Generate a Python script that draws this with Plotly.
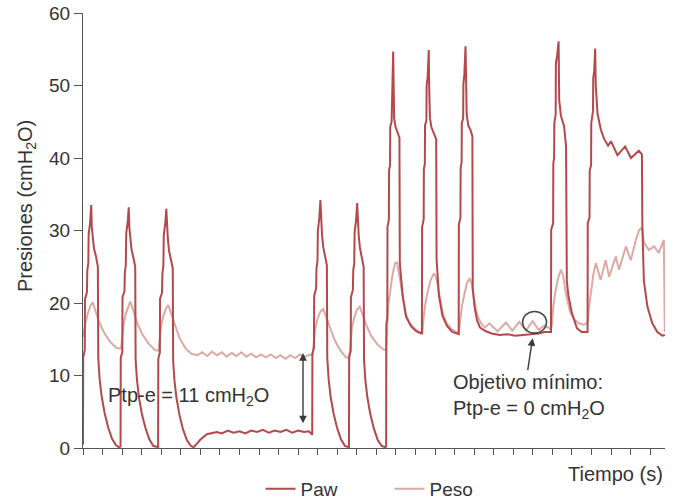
import plotly.graph_objects as go

# Airway pressure (Paw) samples: time (s), pressure (cmH2O)
paw_t = [
    # breaths 1-3
    0.00, 0.01, 0.09, 0.10, 0.20, 0.22, 0.27, 0.29, 0.36, 0.42, 0.45, 0.50, 0.56, 0.66, 0.76, 0.78, 0.85, 0.95, 1.10, 1.28, 1.48, 1.68, 1.85,
    1.92, 1.93, 2.01, 2.02, 2.12, 2.14, 2.19, 2.21, 2.28, 2.34, 2.37, 2.42, 2.48, 2.58, 2.67, 2.69, 2.76, 2.86, 3.01, 3.19, 3.39, 3.59, 3.77,
    3.84, 3.85, 3.93, 3.94, 4.04, 4.06, 4.11, 4.13, 4.20, 4.26, 4.29, 4.34, 4.40, 4.50, 4.59, 4.61, 4.68, 4.78, 4.93, 5.11, 5.31, 5.51, 5.65,
    # pause
    5.83, 5.98, 6.33, 6.84, 7.10, 7.40, 7.70, 8.00, 8.30, 8.60, 8.90, 9.20, 9.50, 9.80, 10.10, 10.40, 10.70, 11.00, 11.30, 11.55, 11.70,
    # breaths 4-5
    11.72, 11.73, 11.81, 11.82, 11.92, 11.94, 11.99, 12.01, 12.08, 12.14, 12.17, 12.22, 12.28, 12.38, 12.47, 12.49, 12.56, 12.66, 12.81, 12.99, 13.19, 13.39, 13.55,
    13.60, 13.61, 13.69, 13.70, 13.80, 13.82, 13.87, 13.89, 13.96, 14.02, 14.05, 14.10, 14.16, 14.26, 14.35, 14.37, 14.44, 14.54, 14.69, 14.87, 15.07, 15.27, 15.45,
    # breaths 6-8 (higher PEEP)
    15.50, 15.51, 15.56, 15.57, 15.64, 15.65, 15.70, 15.71, 15.78, 15.79, 15.83, 15.86, 15.88, 15.91, 15.98, 16.08, 16.18, 16.20, 16.35, 16.52, 16.77, 17.03, 17.17, 17.30,
    17.33, 17.34, 17.42, 17.43, 17.48, 17.49, 17.56, 17.57, 17.62, 17.68, 17.70, 17.74, 17.82, 17.94, 18.06, 18.08, 18.20, 18.38, 18.62, 18.88, 19.05, 19.19,
    19.21, 19.22, 19.30, 19.31, 19.36, 19.37, 19.44, 19.45, 19.50, 19.56, 19.58, 19.62, 19.70, 19.82, 19.91, 19.93, 20.02, 20.15, 20.30, 20.60,
    20.90, 21.30, 21.70, 22.10, 22.50, 22.90, 23.30, 23.60, 23.92,
    # breaths 9-10
    23.93, 23.94, 24.04, 24.05, 24.09, 24.10, 24.17, 24.18, 24.24, 24.32, 24.35, 24.44, 24.60, 24.70, 24.74, 24.82, 25.00, 25.26, 25.50, 25.78,
    25.80, 25.81, 25.90, 25.91, 25.98, 25.99, 26.08, 26.09, 26.14, 26.19, 26.22, 26.31, 26.48, 26.65, 26.85, 27.00, 27.33, 27.72, 28.02, 28.42, 28.58,
    28.60, 28.68, 28.86, 29.11, 29.37, 29.62, 29.75,
]
paw_v = [
    0.5, 12.5, 13.5, 20.5, 21.5, 24.5, 25.5, 29.5, 31.0, 33.5, 30.5, 29.0, 27.5, 26.5, 25.0, 12.5, 9.5, 7.2, 4.9, 2.9, 1.3, 0.4, 0.1,
    0.2, 12.5, 13.2, 20.8, 21.6, 24.2, 25.3, 29.6, 31.0, 33.2, 30.4, 29.2, 27.4, 26.2, 25.0, 12.2, 9.4, 7.0, 4.7, 2.8, 1.2, 0.3, 0.1,
    0.1, 12.3, 13.2, 20.6, 21.4, 24.0, 25.2, 29.4, 30.8, 33.0, 30.2, 28.8, 27.2, 26.0, 24.8, 12.0, 9.2, 6.9, 4.6, 2.6, 1.1, 0.3, 0.1,
    0.6, 1.1, 1.9, 2.2, 2.0, 2.4, 2.1, 2.3, 2.0, 2.4, 2.2, 2.5, 2.1, 2.4, 2.2, 2.5, 2.1, 2.4, 2.2, 2.3, 1.9,
    1.9, 13.0, 13.8, 21.0, 22.0, 24.8, 25.8, 30.0, 31.6, 34.2, 31.0, 29.5, 27.8, 26.6, 25.2, 12.4, 9.5, 7.1, 4.8, 2.8, 1.2, 0.3, 0.1,
    0.1, 12.6, 13.4, 20.8, 21.8, 24.5, 25.5, 29.8, 31.3, 33.8, 30.6, 29.2, 27.6, 26.4, 25.0, 12.2, 9.3, 7.0, 4.7, 2.7, 1.1, 0.3, 0.1,
    0.2, 17.0, 18.0, 30.5, 31.5, 38.3, 39.0, 44.3, 45.0, 49.8, 51.0, 54.7, 50.0, 45.5, 44.3, 43.6, 42.8, 25.5, 20.9, 18.1, 16.8, 16.1, 15.9, 15.8,
    15.8, 30.5, 31.5, 38.5, 39.2, 44.5, 45.2, 50.0, 51.0, 54.9, 50.0, 45.5, 44.2, 43.5, 42.6, 26.0, 21.0, 18.2, 16.8, 16.0, 15.8, 15.7,
    15.7, 30.8, 31.8, 38.6, 39.4, 44.8, 45.5, 50.2, 51.5, 55.4, 50.5, 46.0, 44.5, 43.8, 43.0, 22.0, 19.5, 17.6, 16.6, 16.1,
    15.8, 15.6, 15.7, 15.5, 15.6, 15.7, 15.8, 16.0, 16.1,
    16.0, 30.1, 31.0, 39.3, 40.0, 44.8, 46.0, 53.1, 54.0, 56.1, 48.0, 45.8, 44.4, 41.6, 23.0, 21.0, 18.6, 16.5, 16.0, 16.0,
    16.0, 31.0, 31.8, 38.3, 39.0, 44.8, 46.5, 51.0, 52.0, 55.1, 50.0, 46.1, 43.9, 42.6, 41.7, 42.3, 40.4, 41.6, 40.0, 41.0, 40.5,
    31.0, 23.0, 19.5, 17.2, 16.0, 15.5, 15.6,
]

# Oesophageal pressure (Peso) samples: time (s), pressure (cmH2O)
peso_t = [
    0.00, 0.08, 0.14, 0.26, 0.40, 0.50, 0.62, 0.82, 1.08, 1.40, 1.72, 1.94,
    1.96, 2.07, 2.19, 2.33, 2.41, 2.58, 2.76, 3.01, 3.35, 3.69, 3.86,
    3.88, 3.99, 4.11, 4.25, 4.36, 4.50, 4.68, 4.93, 5.25, 5.55, 5.85,
    6.10, 6.35, 6.60, 6.85, 7.10, 7.35, 7.60, 7.85, 8.10, 8.35, 8.60, 8.85, 9.10, 9.35, 9.60, 9.85,
    10.10, 10.35, 10.60, 10.85, 11.10, 11.35, 11.60, 11.72,
    11.76, 11.87, 11.99, 12.13, 12.28, 12.42, 12.60, 12.85, 13.15, 13.45, 13.62,
    13.64, 13.75, 13.87, 14.01, 14.15, 14.30, 14.48, 14.73, 15.05, 15.35, 15.50,
    15.52, 15.60, 15.70, 15.82, 15.95, 16.05, 16.15, 16.30, 16.50, 16.70, 16.95, 17.20, 17.35,
    17.40, 17.50, 17.62, 17.78, 17.95, 18.05, 18.20, 18.40, 18.60, 18.85, 19.10, 19.22,
    19.28, 19.38, 19.50, 19.64, 19.78, 19.88, 20.00, 20.15, 20.35, 20.55,
    20.78, 21.20, 21.63, 21.95, 22.31, 22.65, 22.99, 23.30, 23.60, 23.92,
    23.98, 24.05, 24.15, 24.30, 24.44, 24.55, 24.70, 24.90, 25.10, 25.35, 25.60, 25.80,
    25.88, 25.98, 26.10, 26.22, 26.30, 26.47, 26.73, 26.90, 27.24, 27.41, 27.76, 28.01, 28.27, 28.44, 28.52,
    28.60, 28.69, 28.94, 29.20, 29.44, 29.70, 29.72, 29.75,
]
peso_v = [
    15.3, 16.6, 17.4, 18.7, 19.7, 20.1, 19.2, 17.4, 15.9, 14.6, 13.8, 13.7,
    14.0, 17.0, 18.5, 19.7, 20.2, 18.9, 17.3, 15.8, 14.4, 13.5, 13.4,
    13.8, 16.8, 18.2, 19.3, 19.7, 18.6, 17.0, 15.2, 13.7, 13.0, 12.8,
    13.2, 12.7, 13.3, 12.8, 13.2, 12.6, 13.1, 12.7, 13.2, 12.6, 13.0, 12.5, 12.9, 12.5, 12.9, 12.4,
    12.8, 12.3, 12.8, 12.4, 12.9, 12.6, 12.9, 12.8,
    13.3, 16.4, 17.8, 18.8, 19.2, 18.2, 16.8, 15.0, 13.5, 12.5, 12.5,
    13.0, 16.5, 18.0, 19.1, 19.5, 18.4, 17.0, 15.5, 14.3, 13.6, 13.5,
    14.5, 19.5, 21.5, 23.8, 25.5, 25.6, 24.2, 21.8, 18.5, 17.2, 16.5, 16.0, 15.9,
    17.5, 19.8, 21.5, 23.2, 24.1, 23.6, 21.5, 18.6, 17.2, 16.4, 16.0, 15.9,
    17.4, 19.6, 21.2, 22.8, 23.4, 22.6, 20.5, 18.4, 17.2, 16.6,
    17.2, 16.1, 17.3, 16.2, 17.4, 16.2, 17.5, 16.3, 16.9, 16.4,
    17.0, 19.5, 21.5, 23.5, 24.6, 23.8, 21.2, 18.8, 17.8, 17.2, 17.0, 17.3,
    19.5, 21.8, 24.0, 25.5, 24.8, 23.2, 25.9, 23.6, 26.4, 24.6, 27.8, 25.9, 28.7, 30.1, 30.3,
    30.0, 28.3, 27.3, 27.8, 26.9, 28.7, 16.5, 16.0,
]

x_ticks = list(range(30))
y_ticks = [0, 10, 20, 30, 40, 50, 60]

PAW_COLOR = "#b4484b"
PESO_COLOR = "#dcaaa5"
TEXT_COLOR = "#333333"
AXIS_COLOR = "#555555"
FONT = "Liberation Sans, Arial, sans-serif"

fig = go.Figure()
fig.add_trace(go.Scatter(x=peso_t, y=peso_v, mode="lines", name="Peso",
                         line=dict(color=PESO_COLOR, width=2), legendrank=2))
fig.add_trace(go.Scatter(x=paw_t, y=paw_v, mode="lines", name="Paw",
                         line=dict(color=PAW_COLOR, width=2), legendrank=1))

annotations = [
    # transpulmonary pressure gap during the pause
    dict(x=11.25, y=3.4, ax=11.25, ay=13.3, xref="x", yref="y", axref="x", ayref="y",
         text="", showarrow=True, arrowhead=2, startarrowhead=2, arrowside="end+start",
         arrowsize=1.1, startarrowsize=1.1, arrowwidth=1.4, arrowcolor="#3a3a3a"),
    dict(x=1.19, y=7.08, xref="x", yref="y", xanchor="left", yanchor="middle",
         text="Ptp-e = 11 cmH<sub>2</sub>O", showarrow=False,
         font=dict(size=20, color=TEXT_COLOR, family=FONT)),
    # minimum target marker
    dict(x=22.99, y=15.15, ax=22.73, ay=10.54, xref="x", yref="y", axref="x", ayref="y",
         text="", showarrow=True, arrowhead=2, arrowsize=1.1, arrowwidth=1.4,
         arrowcolor="#3a3a3a"),
    dict(x=18.84, y=7.14, xref="x", yref="y", xanchor="left", yanchor="middle", align="left",
         text="Objetivo mínimo:<br>Ptp-e = 0 cmH<sub>2</sub>O", showarrow=False,
         font=dict(size=20, color=TEXT_COLOR, family=FONT)),
    # axis titles
    dict(x=1.0, y=-0.06, xref="paper", yref="paper", xanchor="right", yanchor="middle",
         text="Tiempo (s)", showarrow=False, font=dict(size=20, color=TEXT_COLOR, family=FONT)),
    dict(x=-0.098, y=0.556, xref="paper", yref="paper", xanchor="center", yanchor="middle",
         text="Presiones (cmH<sub>2</sub>O)", textangle=-90, showarrow=False,
         font=dict(size=20, color=TEXT_COLOR, family=FONT)),
]

shapes = [
    dict(type="circle", xref="x", yref="y", x0=22.48, x1=23.70, y0=15.84, y1=18.83,
         line=dict(color="#4a4a4a", width=1.6)),
]

fig.update_layout(
    width=679, height=503, autosize=False,
    margin=dict(l=83, r=14, t=13, b=55, autoexpand=False),
    paper_bgcolor="white", plot_bgcolor="white",
    font=dict(family=FONT, color=TEXT_COLOR, size=19),
    showlegend=True,
    legend=dict(orientation="h", x=0.305, y=-0.094, xanchor="left", yanchor="middle",
                font=dict(size=19, color=TEXT_COLOR, family=FONT),
                entrywidth=84, entrywidthmode="pixels", bgcolor="rgba(0,0,0,0)"),
    annotations=annotations,
    shapes=shapes,
)
fig.update_xaxes(range=[0, 29.76], tickvals=x_ticks, showticklabels=False, ticks="outside",
                 ticklen=6, tickwidth=1.3, tickcolor=AXIS_COLOR, showline=True,
                 linecolor=AXIS_COLOR, linewidth=1.3, showgrid=False, zeroline=False)
fig.update_yaxes(range=[0, 60], tickvals=y_ticks, ticks="outside", ticklen=8, tickwidth=1.3,
                 tickcolor=AXIS_COLOR, showline=True, linecolor=AXIS_COLOR, linewidth=1.3,
                 showgrid=False, zeroline=False,
                 tickfont=dict(size=19, color=TEXT_COLOR, family=FONT))

fig.write_html("out.html")
